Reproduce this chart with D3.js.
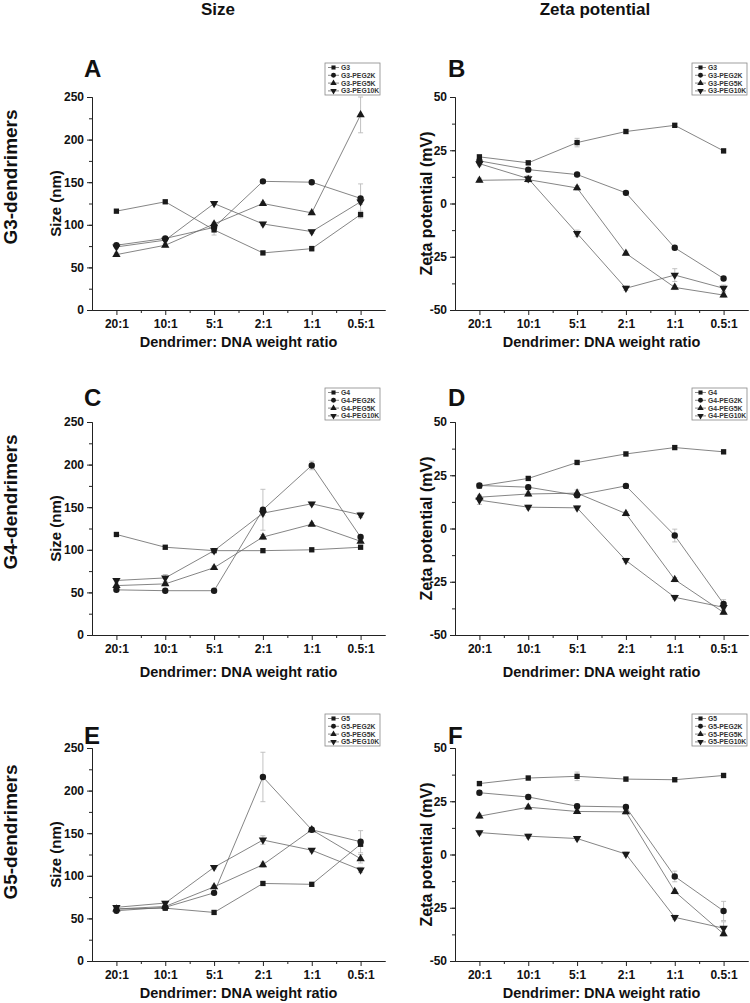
<!DOCTYPE html>
<html>
<head>
<meta charset="utf-8">
<script src="https://cdn.jsdelivr.net/npm/d3@7"></script>
<style>
	body{margin:0;background:#fff;}
	text{font-family:"Liberation Sans",Arial,sans-serif;font-weight:bold;}
</style>
</head>
<body>
<script>

//-----------------------------------------------------------------------------------------------------------------DATA

var ratios = ["20:1","10:1","5:1","2:1","1:1","0.5:1"]
var sizeTicks = [0,50,100,150,200,250]
var zetaTicks = [-50,-25,0,25,50]

var namesG3 = ["G3","G3-PEG2K","G3-PEG5K","G3-PEG10K"]
var namesG4 = ["G4","G4-PEG2K","G4-PEG5K","G4-PEG10K"]
var namesG5 = ["G5","G5-PEG2K","G5-PEG5K","G5-PEG10K"]

// rows = G, PEG2K, PEG5K, PEG10K
var sizeG3 = [
	[116,127,94,67,72,112],
	[76,84,97,151,150,131],
	[65,76,101,125,114,229],
	[74,82,125,101,92,127]
]
var sizeG3Err = [
	[2,2,6,2,3,4],
	[2,2,2,2,2,17],
	[2,2,2,2,2,21],
	[2,2,2,2,2,3]
]
var zetaG3 = [
	[21.9,19.1,28.6,33.8,36.7,24.7],
	[20,15.9,13.6,5,-20.8,-35.2],
	[10.9,11.2,7.3,-23.4,-39.4,-43],
	[18.7,11.7,-14,-39.8,-33.6,-39.8]
]
var zetaG3Err = [
	[1,1,2,1,1,1],
	[1,1,1,1,1,1],
	[1,1,1,1,1,1],
	[1,1.5,1.5,1,3,1.5]
]
var sizeG4 = [
	[118,103,99,99,100,103],
	[53,52,52,147,199,115],
	[58,60,79,115,130,110],
	[64,67,99,143,154,141]
]
var sizeG4Err = [
	[2,2,2,2,2,2],
	[2,2,2,24,5,2],
	[2,2,2,3,2,2],
	[2,4,2,3,2,3]
]
var zetaG4 = [
	[20,23.5,31,35,38,36],
	[20.2,19.4,15.6,20,-3.3,-35.4],
	[14.7,16.2,16.6,7,-24,-39.4],
	[13.3,10,9.7,-15,-32.3,-37]
]
var zetaG4Err = [
	[1,1,1,1,1,1],
	[1,1,1,1,3,2],
	[1,1,1.5,1,1,1],
	[2,1,1,1,1,1]
]
var sizeG5 = [
	[61,62,57,91,90,137],
	[59,63,80,216,154,140],
	[61,64,87,113,154,120],
	[63,68,110,142,130,107]
]
var sizeG5Err = [
	[2,2,2,2,2,2],
	[2,2,2,29,2,13],
	[2,2,2,3,2,5],
	[2,2,2,5,2,3]
]
var zetaG5 = [
	[33.3,35.9,36.7,35.4,35.1,37.1],
	[29,27,22.7,22.3,-10.3,-26.5],
	[18,22.2,20.2,20,-17.4,-37.3],
	[10.3,8.6,7.5,0.2,-29.5,-34.6]
]
var zetaG5Err = [
	[1,1,2,1,1,1],
	[1,1,1,1,2.5,4.5],
	[1,1,1,1,1,1],
	[1,1,1,1,1,3]
]

//-----------------------------------------------------------------------------------------------------------------LAYOUT

var W = 750, H = 1003
var cols = [
	{x0:92, x1:385, titleX:55, legendX:325, letterX:84, ticks:sizeTicks, minor:25, label:"Size (nm)", titleSize:15},
	{x0:455, x1:748, titleX:426, legendX:692, letterX:448, ticks:zetaTicks, minor:12.5, label:"Zeta potential (mV)", titleSize:16}
]
var rows = [
	{top:97, bottom:310, letterY:77, legendY:63, labelY:177, xTitleY:347, name:"G3-dendrimers"},
	{top:422, bottom:635, letterY:406, legendY:388, labelY:502, xTitleY:677, name:"G4-dendrimers"},
	{top:748, bottom:961, letterY:744, legendY:714, labelY:832, xTitleY:998, name:"G5-dendrimers"}
]

var markerTypes = [d3.symbolSquare, d3.symbolCircle, d3.symbolTriangle, d3.symbolTriangle]
var markerSizes = [28, 32, 30, 30]
var markerRot = [0, 0, 0, 180]

//-----------------------------------------------------------------------------------------------------------------PANEL CLASS

function panel(svg, col, row, letter, values, errors, names){
	this.svg = svg
	this.col = col
	this.row = row
	this.letter = letter
	this.values = values
	this.errors = errors
	this.names = names

	this.x = d3.scalePoint().domain(ratios).range([col.x0, col.x1]).padding(0.5)
	this.xMinor = d3.scaleLinear().domain([-0.5, ratios.length-0.5]).range([col.x0, col.x1])
	this.y = d3.scaleLinear().domain(d3.extent(col.ticks)).range([row.bottom, row.top])
	this.g = svg.append("g")
}

panel.prototype.drawAxes = function(){
	var c = this.col, r = this.row
	var lo = c.ticks[0], hi = c.ticks[c.ticks.length-1]

	// minor ticks first
	this.g.append("g").attr("transform","translate("+c.x0+",0)")
		.call(d3.axisLeft(this.y).tickValues(d3.range(lo, hi+0.01, c.minor)).tickSize(3).tickFormat(""))
	this.g.append("g").attr("transform","translate(0,"+r.bottom+")")
		.call(d3.axisBottom(this.xMinor).tickValues(d3.range(0.5, ratios.length-1, 1)).tickSize(3).tickFormat("").tickSizeOuter(0))

	// plain hyphen for negatives, like the original
	var ya = this.g.append("g").attr("transform","translate("+c.x0+",0)")
		.call(d3.axisLeft(this.y).tickValues(c.ticks).tickSize(5).tickPadding(3).tickSizeOuter(0)
			.tickFormat(function(d){ return String(d) }))
	var xa = this.g.append("g").attr("transform","translate(0,"+r.bottom+")")
		.call(d3.axisBottom(this.x).tickSize(5).tickPadding(4).tickSizeOuter(0))

	this.g.selectAll(".domain, .tick line").attr("stroke","#222").attr("stroke-width",1)
	ya.selectAll("text").attr("font-size",12).attr("fill","#111")
	xa.selectAll("text").attr("font-size",12).attr("fill","#111")

	// axis titles
	this.g.append("text")
		.attr("transform","translate("+c.titleX+","+((r.top+r.bottom)/2)+") rotate(-90)")
		.attr("text-anchor","middle").attr("dominant-baseline","central")
		.attr("font-size",c.titleSize).attr("fill","#111")
		.text(c.label)
	this.g.append("text")
		.attr("x",(c.x0+c.x1)/2).attr("y",r.xTitleY)
		.attr("text-anchor","middle").attr("font-size",14.5).attr("fill","#111")
		.text("Dendrimer: DNA weight ratio")

	this.g.append("text")
		.attr("x",c.letterX).attr("y",r.letterY)
		.attr("font-size",24).attr("fill","#111")
		.text(this.letter)
}

panel.prototype.drawSeries = function(){
	var self = this
	var line = d3.line().x(function(d,i){ return self.x(ratios[i]) }).y(function(d){ return self.y(d) })

	for(var s=0;s<this.values.length;s++){
		var vals = this.values[s], errs = this.errors[s]

		// error bars
		var eb = this.g.append("g").attr("stroke","#bbb").attr("stroke-width",0.9)
		for(var i=0;i<vals.length;i++){
			var cx = this.x(ratios[i])
			var y1 = this.y(vals[i]+errs[i]), y2 = this.y(vals[i]-errs[i])
			eb.append("line").attr("x1",cx).attr("x2",cx).attr("y1",y1).attr("y2",y2)
			eb.append("line").attr("x1",cx-2.5).attr("x2",cx+2.5).attr("y1",y1).attr("y2",y1)
			eb.append("line").attr("x1",cx-2.5).attr("x2",cx+2.5).attr("y1",y2).attr("y2",y2)
		}

		this.g.append("path").datum(vals)
			.attr("d",line).attr("fill","none").attr("stroke","#666").attr("stroke-width",0.8)
	}

	for(var s=0;s<this.values.length;s++){
		var sym = d3.symbol().type(markerTypes[s]).size(markerSizes[s])
		var rot = markerRot[s]
		this.g.append("g").selectAll("path").data(this.values[s]).enter().append("path")
			.attr("d",sym)
			.attr("transform",function(d,i){ return "translate("+self.x(ratios[i])+","+self.y(d)+") rotate("+rot+")" })
			.attr("fill","#1a1a1a")
	}
}

panel.prototype.drawLegend = function(){
	var lx = this.col.legendX, ly = this.row.legendY
	var lg = this.g.append("g").attr("transform","translate("+lx+","+ly+")")
	lg.append("rect").attr("width",55).attr("height",32).attr("fill","#fff").attr("stroke","#888").attr("stroke-width",0.8)

	for(var s=0;s<this.names.length;s++){
		var yy = 4.5 + s*7.8
		lg.append("line").attr("x1",3).attr("x2",14).attr("y1",yy).attr("y2",yy).attr("stroke","#555").attr("stroke-width",0.7)
		lg.append("path")
			.attr("d",d3.symbol().type(markerTypes[s]).size(markerSizes[s]*0.6))
			.attr("transform","translate(8.5,"+yy+") rotate("+markerRot[s]+")")
			.attr("fill","#1a1a1a")
		lg.append("text").attr("x",16).attr("y",yy).attr("dominant-baseline","central")
			.attr("font-size",6.8).attr("font-weight","normal").attr("fill","#333")
			.text(this.names[s])
	}
}

//-----------------------------------------------------------------------------------------------------------------DRAW

var svg = d3.select("body").append("svg").attr("width",W).attr("height",H)
svg.append("rect").attr("width",W).attr("height",H).attr("fill","#fff")

svg.append("text").attr("x",218).attr("y",15).attr("text-anchor","middle").attr("font-size",17).attr("fill","#111").text("Size")
svg.append("text").attr("x",595).attr("y",15).attr("text-anchor","middle").attr("font-size",17).attr("fill","#111").text("Zeta potential")

rows.forEach(function(r){
	svg.append("text")
		.attr("transform","translate(17,"+r.labelY+") rotate(-90)")
		.attr("text-anchor","middle").attr("font-size",19).attr("fill","#111")
		.text(r.name)
})

var panels = [
	new panel(svg, cols[0], rows[0], "A", sizeG3, sizeG3Err, namesG3),
	new panel(svg, cols[1], rows[0], "B", zetaG3, zetaG3Err, namesG3),
	new panel(svg, cols[0], rows[1], "C", sizeG4, sizeG4Err, namesG4),
	new panel(svg, cols[1], rows[1], "D", zetaG4, zetaG4Err, namesG4),
	new panel(svg, cols[0], rows[2], "E", sizeG5, sizeG5Err, namesG5),
	new panel(svg, cols[1], rows[2], "F", zetaG5, zetaG5Err, namesG5)
]

for(var p=0;p<panels.length;p++){
	panels[p].drawAxes()
	panels[p].drawSeries()
	panels[p].drawLegend()
}

</script>
</body>
</html>
